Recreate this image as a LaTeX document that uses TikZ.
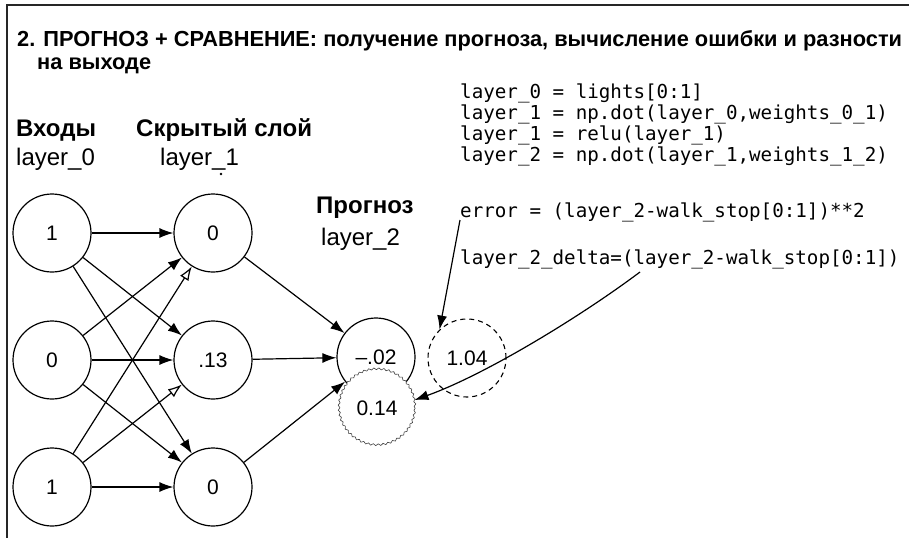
\documentclass[tikz,border=0pt]{standalone}
\usepackage{fontspec}
\setmainfont{Liberation Sans}
\newfontfamily\codefont{DejaVu Sans Mono}
\usetikzlibrary{arrows.meta,decorations.pathmorphing}
\tikzset{
  neuron/.style={circle,draw,line width=1.2pt,minimum size=78pt,inner sep=0pt,font=\fontsize{21}{25}\selectfont},
  conn/.style={line width=1.2pt,-{Latex[length=14pt,width=10pt]}},
  openconn/.style={line width=1.2pt,-{Latex[open,length=14pt,width=10pt]}},
  code/.style={anchor=base west,inner sep=0pt,font=\codefont\fontsize{19.2}{23}\selectfont},
  head/.style={anchor=base west,inner sep=0pt,font=\bfseries\fontsize{24}{28}\selectfont},
  lbl/.style={anchor=base west,inner sep=0pt,font=\fontsize{24}{28}\selectfont},
  ttl/.style={anchor=base west,inner sep=0pt,font=\bfseries\fontsize{21.8}{26}\selectfont}
}
\begin{document}
\begin{tikzpicture}[x=1pt,y=-1pt]
\useasboundingbox (0,0) rectangle (909,538);
\fill[white] (0,0) rectangle (909,538);
% frame
\draw[line width=2pt,black!85] (909,5) -- (7,5) -- (7,538);
% title
\node[ttl] (t1) at (17,46) {2. ПРОГНОЗ + СРАВНЕНИЕ: получение прогноза, вычисление ошибки и разности};
\node[ttl] (t2) at (37,69) {на выходе};
% headers
\node[head] (hin) at (16,136) {Входы};
\node[head] (hhid) at (136,136) {Скрытый слой};
\node[lbl] (l0) at (16,165) {layer\_0};
\node[lbl] (l1) at (160,165) {layer\_1};
\fill (221,174) circle (1.3pt);
\node[head] (hout) at (316,213) {Прогноз};
\node[lbl] (l2) at (321,245) {layer\_2};
% code
\node[code] (c1) at (460,98) {layer\_0 = lights[0:1]};
\node[code] (c2) at (460,119) {layer\_1 = np.dot(layer\_0,weights\_0\_1)};
\node[code] (c3) at (460,140) {layer\_1 = relu(layer\_1)};
\node[code] (c4) at (460,161) {layer\_2 = np.dot(layer\_1,weights\_1\_2)};
\node[code] (err) at (460,217) {error = (layer\_2-walk\_stop[0:1])**2};
\node[code] (del) at (460,264) {layer\_2\_delta=(layer\_2-walk\_stop[0:1])};
% neurons
\node[neuron] (i1) at (52,233) {1};
\node[neuron] (i2) at (52,360) {0};
\node[neuron] (i3) at (52,487) {1};
\node[neuron] (h1) at (213,233) {0};
\node[neuron] (h2) at (213,360) {.13};
\node[neuron] (h3) at (213,487) {0};
\node[neuron] (o) at (376,357) {–.02};
\node[neuron,draw=black!75,line width=0.6pt,fill=white,minimum size=76pt,
  decorate,decoration={snake,segment length=5pt,amplitude=0.9pt}] (c014) at (377,408) {0.14};
\node[neuron,dashed,dash pattern=on 5pt off 4pt,line width=1.1pt] (c104) at (467,358) {1.04};
% connections
\draw[conn] (i1) -- (h1);
\draw[conn] (i1) -- (h2);
\draw[conn] (i1) -- (h3);
\draw[conn] (i2) -- (h1);
\draw[conn] (i2) -- (h2);
\draw[conn] (i2) -- (h3);
\draw[openconn] (i3) -- (h1);
\draw[openconn] (i3) -- (h2);
\draw[conn] (i3) -- (h3);
\draw[conn] (h1) -- (o);
\draw[conn] (h2) -- (o);
\draw[conn] (h3) -- (o);
% annotation arrows
\coordinate (errstart) at (460,220);
\coordinate (delstart) at (640,272);
\draw[conn] (errstart) -- (c104.134);
\draw[conn] (delstart) .. controls +(-60,45) and +(70,-25) .. (c014.12);
\end{tikzpicture}
\end{document}
